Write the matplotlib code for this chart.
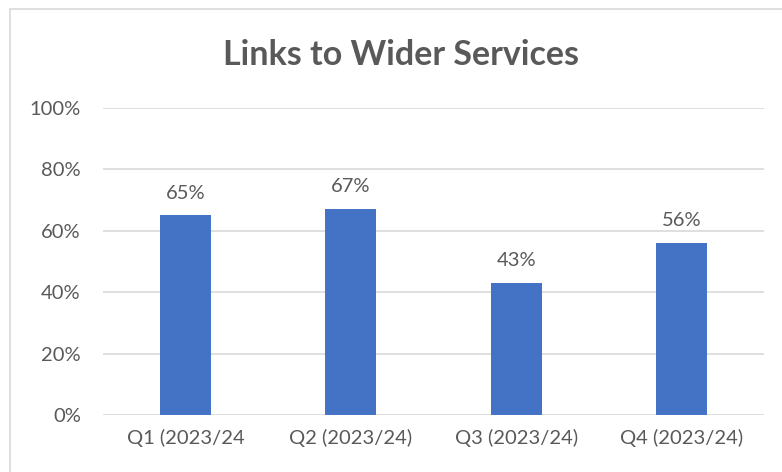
import matplotlib.pyplot as plt
from matplotlib.patches import Rectangle

# Data
quarters = ['Q1 (2023/24', 'Q2 (2023/24)', 'Q3 (2023/24)', 'Q4 (2023/24)']
values = [65, 67, 43, 56]
yticks = [0, 20, 40, 60, 80, 100]

text_color = '#595959'
grid_color = '#d9d9d9'
bar_color = '#4472C4'

plt.rcParams['font.family'] = ['Lato', 'DejaVu Sans']

fig = plt.figure(figsize=(7.82, 4.72), dpi=100)
ax = fig.add_axes([103 / 782, 1 - 415 / 472, 661 / 782, 307 / 472])

x = range(len(quarters))
bars = ax.bar(x, values, width=0.31, color=bar_color, zorder=3)

for xi, v in zip(x, values):
    ax.annotate(f'{v}%', (xi, v), xytext=(0, 10), textcoords='offset points',
                ha='center', va='bottom', fontsize=14.5, color=text_color)

ax.set_xlim(-0.5, len(quarters) - 0.5)
ax.set_ylim(0, 100)
ax.set_yticks(yticks)
ax.set_yticklabels([f'{t}%' for t in yticks])
ax.set_xticks(list(x))
ax.set_xticklabels(quarters)
ax.tick_params(axis='both', length=0, labelsize=14.5, colors=text_color)
ax.tick_params(axis='y', pad=16)
ax.tick_params(axis='x', pad=10)
ax.yaxis.grid(True, color=grid_color, linewidth=1.2, zorder=0)
for s in ax.spines.values():
    s.set_visible(False)

fig.text(401 / 782, 1 - 55 / 472, 'Links to Wider Services', ha='center', va='center',
         fontsize=24.5, fontweight='bold', color=text_color)

# chart border
fig.patches.append(Rectangle((10 / 782, -0.1), 1.2, 1 - 9 / 472 + 0.1,
                             transform=fig.transFigure, fill=False,
                             edgecolor=grid_color, linewidth=1.2))

fig.savefig('out.png', dpi=100)
